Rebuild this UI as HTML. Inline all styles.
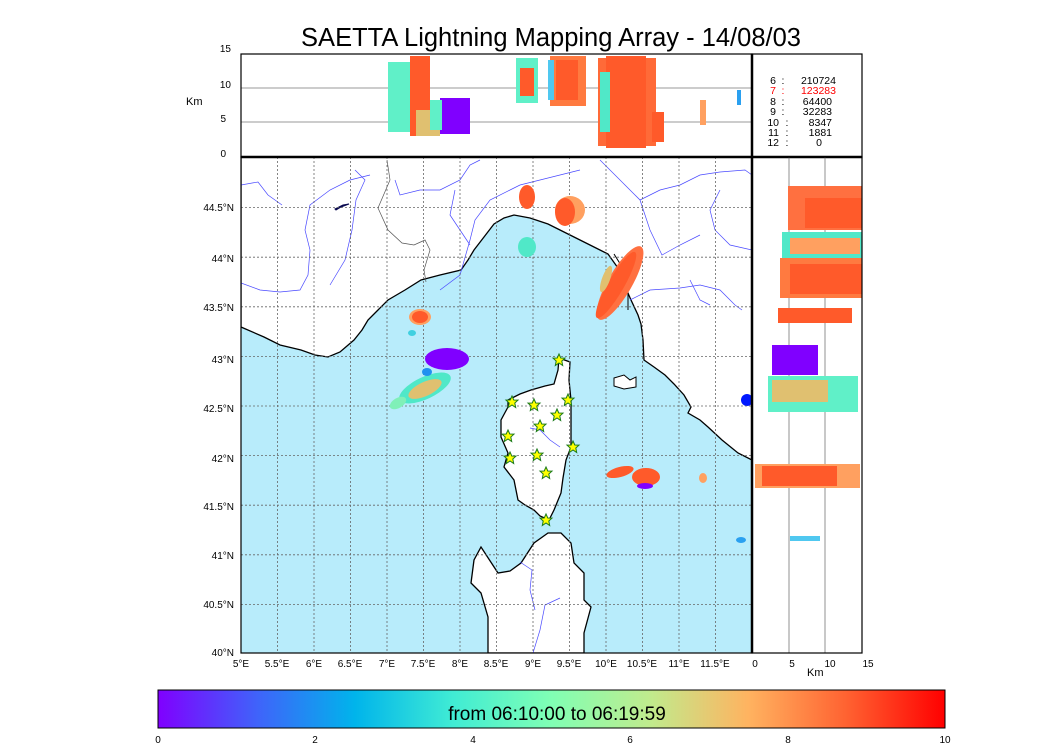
<!DOCTYPE html>
<html><head><meta charset="utf-8"><style>
body{margin:0;background:#fff;width:1050px;height:750px;overflow:hidden}
svg text{font-family:"Liberation Sans","DejaVu Sans",sans-serif}
</style></head><body>
<svg width="1050" height="750" viewBox="0 0 1050 750" xmlns="http://www.w3.org/2000/svg">
<defs>
<linearGradient id="rb" x1="0" x2="1" y1="0" y2="0">
<stop offset="0" stop-color="#8000ff"/><stop offset="0.125" stop-color="#4062fa"/>
<stop offset="0.25" stop-color="#00b4eb"/><stop offset="0.375" stop-color="#40ecd4"/>
<stop offset="0.5" stop-color="#80ffb4"/><stop offset="0.625" stop-color="#c0eb8d"/>
<stop offset="0.75" stop-color="#ffb360"/><stop offset="0.875" stop-color="#ff6231"/>
<stop offset="1" stop-color="#ff0000"/></linearGradient>
<clipPath id="mc"><rect x="241" y="157" width="511" height="496"/></clipPath>
</defs>
<text x="551" y="46" font-size="25.5" text-anchor="middle">SAETTA Lightning Mapping Array - 14/08/03</text>

<!-- main map -->
<g clip-path="url(#mc)">
<rect x="241" y="157" width="511" height="496" fill="#b8ecfb"/>
<polygon fill="#fff" stroke="#000" stroke-width="1.3" points="241,327 264,337 280,345 301,350 315,355 328,357 340,352 354,340 362,330 368,320 378,310 388,300 405,290 421,280 440,275 461,270 468,260 474,250 484,237 494,224 504,218 514,215 530,218 548,224 560,230 574,237 590,245 608,254 618,268 624,284 631,300 638,315 641,324 643,340 644,360 654,367 665,375 674,384 684,395 691,407 688,413 700,420 708,427 722,440 738,453 752,460 752,157 241,157"/>
<polygon fill="#fff" stroke="#000" stroke-width="1.3" points="559,358 570,362 569,380 571,400 571,425 571,447 566,460 563,478 561,493 554,510 549,520 540,516 534,510 525,505 518,500 514,480 504,467 508,453 501,437 501,420 508,407 508,400 520,394 531,390 545,386 554,384 558,370"/>
<polygon fill="#fff" stroke="#000" stroke-width="1.3" points="548,533 561,533 571,543 574,563 584,573 584,600 591,607 584,633 584,653 488,653 488,617 481,593 471,583 474,560 481,547 498,573 510,571 521,563 534,543"/>
<polygon fill="#fff" stroke="#000" stroke-width="1" points="614,378 624,375 630,380 636,377 636,387 624,389 614,386"/>
<polyline fill="none" stroke="#555" stroke-width="0.7" points="387,160 390,180 378,208 388,230 402,243 414,245 425,240 430,250 424,270 426,282"/>
<polyline fill="none" stroke="#000" stroke-width="1" points="614,254 624,270 628,290 628,310"/>
<g fill="none" stroke="#4a4aff" stroke-width="0.7">
<polyline points="241,185 258,182 268,195 282,205"/>
<polyline points="241,283 260,290 280,292 300,290 308,275 310,250 305,230 310,205 330,190 350,180 370,175"/>
<polyline points="355,170 365,180 356,200 352,230 345,260 330,285"/>
<polyline points="395,180 400,195 420,190 440,190 460,180 470,165 480,160"/>
<polyline points="440,290 460,275 470,240 475,220 490,200 510,190"/>
<polyline points="455,190 450,215 460,230 470,245"/>
<polyline points="510,190 520,185 540,180 560,175 580,170"/>
<polyline points="600,160 620,180 640,200 650,230 662,255 680,245 700,235"/>
<polyline points="640,200 660,190 680,185 700,175 720,172 745,170 752,175"/>
<polyline points="720,190 710,210 715,230 730,245 752,250"/>
<polyline points="630,300 650,290 680,288 700,285 720,290 735,305 742,310"/>
<polyline points="690,280 700,300 710,305"/>
<polyline points="530,428 540,430 550,440 560,447"/>
<polyline points="520,562 532,570 530,590 535,610"/>
<polyline points="560,598 545,605 540,630 533,653"/>
</g>
<path d="M335,209 l8,-4 l6,-1 l-8,3 l-5,3z" fill="#0a0a50" stroke="#0a0a50"/>
<ellipse cx="747" cy="400" rx="6" ry="6" fill="#0018ff"/>
<g stroke="#666" stroke-width="0.8" stroke-dasharray="2,2">
<line x1="277.5" y1="157" x2="277.5" y2="653"/><line x1="314" y1="157" x2="314" y2="653"/>
<line x1="350.5" y1="157" x2="350.5" y2="653"/><line x1="387" y1="157" x2="387" y2="653"/>
<line x1="423.5" y1="157" x2="423.5" y2="653"/><line x1="460" y1="157" x2="460" y2="653"/>
<line x1="496.5" y1="157" x2="496.5" y2="653"/><line x1="533" y1="157" x2="533" y2="653"/>
<line x1="569.5" y1="157" x2="569.5" y2="653"/><line x1="606" y1="157" x2="606" y2="653"/>
<line x1="642.5" y1="157" x2="642.5" y2="653"/><line x1="679" y1="157" x2="679" y2="653"/>
<line x1="715.5" y1="157" x2="715.5" y2="653"/>
<line x1="241" y1="207.6" x2="752" y2="207.6"/><line x1="241" y1="257.2" x2="752" y2="257.2"/>
<line x1="241" y1="306.8" x2="752" y2="306.8"/><line x1="241" y1="356.4" x2="752" y2="356.4"/>
<line x1="241" y1="406" x2="752" y2="406"/><line x1="241" y1="455.6" x2="752" y2="455.6"/>
<line x1="241" y1="505.2" x2="752" y2="505.2"/><line x1="241" y1="554.8" x2="752" y2="554.8"/>
<line x1="241" y1="604.4" x2="752" y2="604.4"/>
</g>
<ellipse cx="420" cy="317" rx="11" ry="8" fill="#ffa060"/><ellipse cx="420" cy="317" rx="8" ry="6" fill="#ff5a2a"/>
<ellipse cx="412" cy="333" rx="4" ry="3" fill="#40d0e0"/>
<ellipse cx="447" cy="359" rx="22" ry="11" fill="#8000ff"/>
<ellipse cx="425" cy="388" rx="28" ry="11" fill="#50e8c8" transform="rotate(-25 425 388)"/>
<ellipse cx="425" cy="389" rx="18" ry="7" fill="#e0c070" transform="rotate(-25 425 389)"/>
<ellipse cx="398" cy="403" rx="9" ry="5" fill="#80f0b8" transform="rotate(-30 398 403)"/>
<ellipse cx="427" cy="372" rx="5" ry="4" fill="#2090f0"/>
<ellipse cx="527" cy="197" rx="8" ry="12" fill="#ff5a2a"/>
<ellipse cx="570" cy="210" rx="15" ry="14" fill="#ffa060"/><ellipse cx="565" cy="212" rx="10" ry="14" fill="#ff5a2a"/>
<ellipse cx="527" cy="247" rx="9" ry="10" fill="#50e8c8"/>
<ellipse cx="620" cy="283" rx="12" ry="42" fill="#ff7040" transform="rotate(30 620 283)"/>
<ellipse cx="616" cy="285" rx="8" ry="38" fill="#ff5a2a" transform="rotate(30 616 285)"/>
<ellipse cx="606" cy="279" rx="4" ry="14" fill="#e0c070" transform="rotate(20 606 279)"/>
<ellipse cx="620" cy="472" rx="14" ry="5" fill="#ff5a2a" transform="rotate(-15 620 472)"/>
<ellipse cx="646" cy="477" rx="14" ry="9" fill="#ff5a2a"/><ellipse cx="645" cy="486" rx="8" ry="3" fill="#8000ff"/>
<ellipse cx="703" cy="478" rx="4" ry="5" fill="#ffa060"/>
<ellipse cx="741" cy="540" rx="5" ry="3" fill="#2aa0f0"/>
<g fill="#ffff00" stroke="#1a7a1a" stroke-width="1">
<path id="st" d="M0,-6 L1.8,-2 L6,-1.9 L2.8,1 L3.7,5.5 L0,3 L-3.7,5.5 L-2.8,1 L-6,-1.9 L-1.8,-2Z"/>
<use href="#st" x="512" y="402"/><use href="#st" x="534" y="405"/><use href="#st" x="568" y="400"/>
<use href="#st" x="559" y="360"/><use href="#st" x="557" y="415"/><use href="#st" x="540" y="426"/>
<use href="#st" x="508" y="436"/><use href="#st" x="510" y="458"/><use href="#st" x="537" y="455"/>
<use href="#st" x="546" y="473"/><use href="#st" x="573" y="447"/><use href="#st" x="546" y="520"/>
</g>
</g>
<rect x="241" y="157" width="511" height="496" fill="none" stroke="#000" stroke-width="1.2"/>

<!-- top panel -->
<line x1="241" y1="88" x2="752" y2="88" stroke="#777" stroke-width="0.8"/>
<line x1="241" y1="122" x2="752" y2="122" stroke="#777" stroke-width="0.8"/>
<rect x="388" y="62" width="35" height="70" fill="#60f0c8"/>
<rect x="410" y="56" width="20" height="80" fill="#ff5a2a"/>
<rect x="416" y="110" width="24" height="26" fill="#e0c070"/>
<rect x="440" y="98" width="30" height="36" fill="#8000ff"/>
<rect x="430" y="100" width="12" height="30" fill="#60f0c8"/>
<rect x="516" y="58" width="22" height="45" fill="#60f0c8"/><rect x="520" y="68" width="14" height="28" fill="#ff5a2a"/>
<rect x="550" y="56" width="36" height="50" fill="#ff7a40"/><rect x="556" y="60" width="22" height="40" fill="#ff5a2a"/>
<rect x="548" y="60" width="6" height="40" fill="#50c8f0"/>
<rect x="598" y="58" width="58" height="88" fill="#ff6a38"/><rect x="606" y="56" width="40" height="92" fill="#ff5a2a"/>
<rect x="600" y="72" width="10" height="60" fill="#50e8c8"/>
<rect x="652" y="112" width="12" height="30" fill="#ff5a2a"/>
<rect x="700" y="100" width="6" height="25" fill="#ffa060"/>
<rect x="737" y="90" width="4" height="15" fill="#2aa0f0"/>
<rect x="241" y="54" width="511" height="103" fill="none" stroke="#000" stroke-width="1.2"/>
<line x1="241" y1="157" x2="862" y2="157" stroke="#000" stroke-width="2.5"/>
<g font-size="10" text-anchor="end">
<text x="231" y="52">15</text><text x="231" y="88">10</text><text x="226" y="122">5</text><text x="226" y="157">0</text>
</g>
<text x="186" y="105" font-size="11">Km</text>

<!-- right panel -->
<line x1="789" y1="157" x2="789" y2="653" stroke="#777" stroke-width="0.8"/>
<line x1="825" y1="157" x2="825" y2="653" stroke="#777" stroke-width="0.8"/>
<rect x="788" y="186" width="74" height="44" fill="#ff7040"/><rect x="805" y="198" width="57" height="30" fill="#ff5a2a"/>
<rect x="782" y="232" width="80" height="28" fill="#50e8c8"/><rect x="790" y="238" width="70" height="16" fill="#ffa060"/>
<rect x="780" y="258" width="82" height="40" fill="#ff7a40"/><rect x="790" y="264" width="72" height="30" fill="#ff5a2a"/>
<rect x="778" y="308" width="74" height="15" fill="#ff5a2a"/>
<rect x="772" y="345" width="46" height="30" fill="#8000ff"/>
<rect x="768" y="376" width="90" height="36" fill="#60f0c8"/><rect x="772" y="380" width="56" height="22" fill="#e0c070"/>
<rect x="755" y="464" width="105" height="24" fill="#ffa060"/><rect x="762" y="466" width="75" height="20" fill="#ff5a2a"/>
<rect x="790" y="536" width="30" height="5" fill="#50c8f0"/>
<rect x="752" y="157" width="110" height="496" fill="none" stroke="#000" stroke-width="1.2"/>
<line x1="752" y1="54" x2="752" y2="653" stroke="#000" stroke-width="2.5"/>
<rect x="752" y="54" width="110" height="103" fill="none" stroke="#000" stroke-width="1.2"/>
<g font-size="10" text-anchor="middle">
<text x="755" y="667">0</text><text x="792" y="667">5</text><text x="830" y="667">10</text><text x="868" y="667">15</text>
</g>
<text x="807" y="676" font-size="11">Km</text>
<g font-size="10.5">
<g text-anchor="end">
<text x="776" y="84">6</text><text x="776" y="94" fill="#ff0000">7</text><text x="776" y="105">8</text>
<text x="776" y="115">9</text><text x="779" y="126">10</text><text x="779" y="136">11</text><text x="779" y="146">12</text>
</g>
<g text-anchor="middle">
<text x="783" y="84">:</text><text x="783" y="94" fill="#ff0000">:</text><text x="783" y="105">:</text>
<text x="783" y="115">:</text><text x="787" y="126">:</text><text x="787" y="136">:</text><text x="787" y="146">:</text>
</g>
<g text-anchor="end">
<text x="836" y="84">210724</text><text x="836" y="94" fill="#ff0000">123283</text><text x="832" y="105">64400</text>
<text x="832" y="115">32283</text><text x="832" y="126">8347</text><text x="832" y="136">1881</text><text x="822" y="146">0</text>
</g>
</g>

<g font-size="10" text-anchor="end">
<text x="234" y="211">44.5°N</text><text x="234" y="262">44°N</text><text x="234" y="311">43.5°N</text>
<text x="234" y="363">43°N</text><text x="234" y="412">42.5°N</text><text x="234" y="462">42°N</text>
<text x="234" y="510">41.5°N</text><text x="234" y="559">41°N</text><text x="234" y="608">40.5°N</text>
<text x="234" y="656">40°N</text>
</g>
<g font-size="10" text-anchor="middle">
<text x="241" y="667">5°E</text><text x="277" y="667">5.5°E</text><text x="314" y="667">6°E</text>
<text x="350" y="667">6.5°E</text><text x="387" y="667">7°E</text><text x="423" y="667">7.5°E</text>
<text x="460" y="667">8°E</text><text x="496" y="667">8.5°E</text><text x="533" y="667">9°E</text>
<text x="569" y="667">9.5°E</text><text x="606" y="667">10°E</text><text x="642" y="667">10.5°E</text>
<text x="679" y="667">11°E</text><text x="715" y="667">11.5°E</text>
</g>

<rect x="158" y="690" width="787" height="38" fill="url(#rb)" stroke="#000" stroke-width="1"/>
<text x="557" y="720" font-size="19" text-anchor="middle">from 06:10:00 to 06:19:59</text>
<g font-size="10" text-anchor="middle">
<text x="158" y="743">0</text><text x="315" y="743">2</text><text x="473" y="743">4</text>
<text x="630" y="743">6</text><text x="788" y="743">8</text><text x="945" y="743">10</text>
</g>
</svg>
</body></html>
